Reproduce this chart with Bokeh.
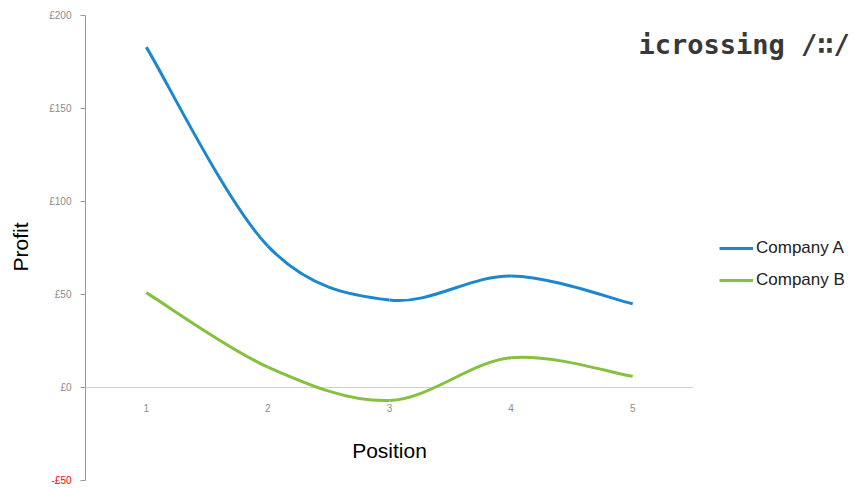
from bokeh.plotting import figure
from bokeh.models import (ColumnDataSource, FixedTicker, PrintfTickFormatter, Label,
                          Legend, LegendItem, Range1d, LinearAxis)
from bokeh.embed import file_html
from bokeh.resources import INLINE

# ---- data ----
positions = [1, 2, 3, 4, 5]
company_a = [183, 76, 47, 60, 45]
company_b = [51, 11, -7, 16, 6]
y_ticks = [0, 50, 100, 150, 200]
y_neg_ticks = [-50]
series_names = ["Company A", "Company B"]
series_colors = ["#1b87cf", "#84c13e"]

# ---- layout (pixels) ----
W, H = 855, 489
PLOT_LEFT, PLOT_RIGHT = 85, 693          # where the category band starts / ends
PLOT_TOP, PLOT_BOTTOM = 15, 480          # where the value axis starts / ends
FRAME_TOP, FRAME_BOTTOM = 4, 489
LEGEND_LEFT, LEGEND_BOTTOM = 719, 290

x_lo = positions[0] - 0.5
x_hi = positions[-1] + 0.5
px_per_x = (PLOT_RIGHT - PLOT_LEFT) / (x_hi - x_lo)
x_start = x_lo - PLOT_LEFT / px_per_x
x_end = x_start + W / px_per_x

y_lo, y_hi = y_neg_ticks[0], y_ticks[-1]
px_per_y = (PLOT_BOTTOM - PLOT_TOP) / (y_hi - y_lo)
y_end = y_hi + (PLOT_TOP - FRAME_TOP) / px_per_y
y_start = y_lo - (FRAME_BOTTOM - PLOT_BOTTOM) / px_per_y


def smooth_segments(xs, ys):
    """Bezier segments (Excel-style smoothed line) through the data points."""
    n = len(xs)
    d = dict(x0=[], y0=[], x1=[], y1=[], cx0=[], cy0=[], cx1=[], cy1=[])
    for i in range(n - 1):
        a = i - 1 if i > 0 else i
        b = i + 2 if i + 2 < n else i + 1
        d["x0"].append(xs[i]); d["y0"].append(ys[i])
        d["x1"].append(xs[i + 1]); d["y1"].append(ys[i + 1])
        d["cx0"].append(xs[i] + (xs[i + 1] - xs[a]) / 6)
        d["cy0"].append(ys[i] + (ys[i + 1] - ys[a]) / 6)
        d["cx1"].append(xs[i + 1] - (xs[b] - xs[i]) / 6)
        d["cy1"].append(ys[i + 1] - (ys[b] - ys[i]) / 6)
    return ColumnDataSource(d)


p = figure(width=W, height=H, output_backend="svg", toolbar_location=None,
           x_range=Range1d(x_start, x_end), y_range=Range1d(y_start, y_end),
           min_border_left=0, min_border_right=0, min_border_top=FRAME_TOP,
           min_border_bottom=H - FRAME_BOTTOM)
p.outline_line_color = None
p.xgrid.visible = False
p.ygrid.visible = False
p.background_fill_color = "white"

LABEL_FONT = "Liberation Sans"

# y axis at the left edge of the category band (line drawn as a segment)
ya = p.yaxis[0]
ya.fixed_location = x_lo
ya.ticker = FixedTicker(ticks=y_ticks)
ya.formatter = PrintfTickFormatter(format="£%d")
ya.axis_line_color = None
ya.major_tick_line_color = "#999999"
ya.major_tick_out = 5
ya.major_tick_in = 0
ya.minor_tick_line_color = None
ya.major_label_text_color = "#8c8c8c"
ya.major_label_text_font = LABEL_FONT
ya.major_label_text_font_size = "10px"
ya.major_label_standoff = 9
ya.axis_label = "Profit"
ya.axis_label_text_font = LABEL_FONT
ya.axis_label_text_font_style = "normal"
ya.axis_label_text_font_size = "21px"
ya.axis_label_text_color = "black"
ya.axis_label_standoff = 14

# second y axis carrying only the red negative tick label
ya2 = LinearAxis(fixed_location=x_lo, ticker=FixedTicker(ticks=y_neg_ticks),
                 major_label_overrides={-50: "-£50"},
                 axis_line_color=None, major_tick_line_color="#999999",
                 major_tick_out=5, major_tick_in=0, minor_tick_line_color=None,
                 major_label_text_color="red", major_label_text_font=LABEL_FONT,
                 major_label_text_font_size="10px", major_label_standoff=9)
p.add_layout(ya2, "left")

p.segment(x0=[x_lo], y0=[y_lo], x1=[x_lo], y1=[y_hi], line_color="#999999", line_width=1)

# x axis on the zero line (line itself drawn as a segment over the category band)
xa = p.xaxis[0]
xa.fixed_location = 0
xa.ticker = FixedTicker(ticks=positions)
xa.axis_line_color = None
xa.major_tick_line_color = None
xa.minor_tick_line_color = None
xa.major_tick_in = 0
xa.major_tick_out = 0
xa.major_label_text_color = "#8c8c8c"
xa.major_label_text_font = LABEL_FONT
xa.major_label_text_font_size = "10px"
xa.major_label_standoff = 16

p.segment(x0=[x_lo], y0=[0], x1=[x_hi], y1=[0], line_color="#d0d0d0", line_width=1)

p.add_layout(Label(x=(x_lo + x_hi) / 2, y=0, y_offset=-63, text="Position",
                   text_font=LABEL_FONT, text_font_size="21px", text_color="black",
                   text_align="center", text_baseline="middle"))

renderers = []
for ys, color in zip([company_a, company_b], series_colors):
    r = p.bezier(x0="x0", y0="y0", x1="x1", y1="y1", cx0="cx0", cy0="cy0",
                 cx1="cx1", cy1="cy1", source=smooth_segments(positions, ys),
                 line_color=color, line_width=3)
    renderers.append(r)

legend = Legend(items=[LegendItem(label=n, renderers=[r]) for n, r in zip(series_names, renderers)],
                location=(LEGEND_LEFT, FRAME_BOTTOM - LEGEND_BOTTOM),
                padding=0, margin=0, spacing=12,
                glyph_width=34, glyph_height=20, label_height=20, label_standoff=3,
                border_line_alpha=0, background_fill_alpha=0,
                label_text_font=LABEL_FONT, label_text_font_size="17px",
                label_text_color="#222222")
p.add_layout(legend)

# logo
p.add_layout(Label(x=638, y=FRAME_BOTTOM - 44, x_units="screen", y_units="screen",
                   text="icrossing /∷/", text_font="DejaVu Sans Mono",
                   text_font_style="bold",
                   text_font_size="27px", text_color="#383838",
                   text_baseline="alphabetic"))

open("out.html", "w").write(file_html(p, INLINE))
